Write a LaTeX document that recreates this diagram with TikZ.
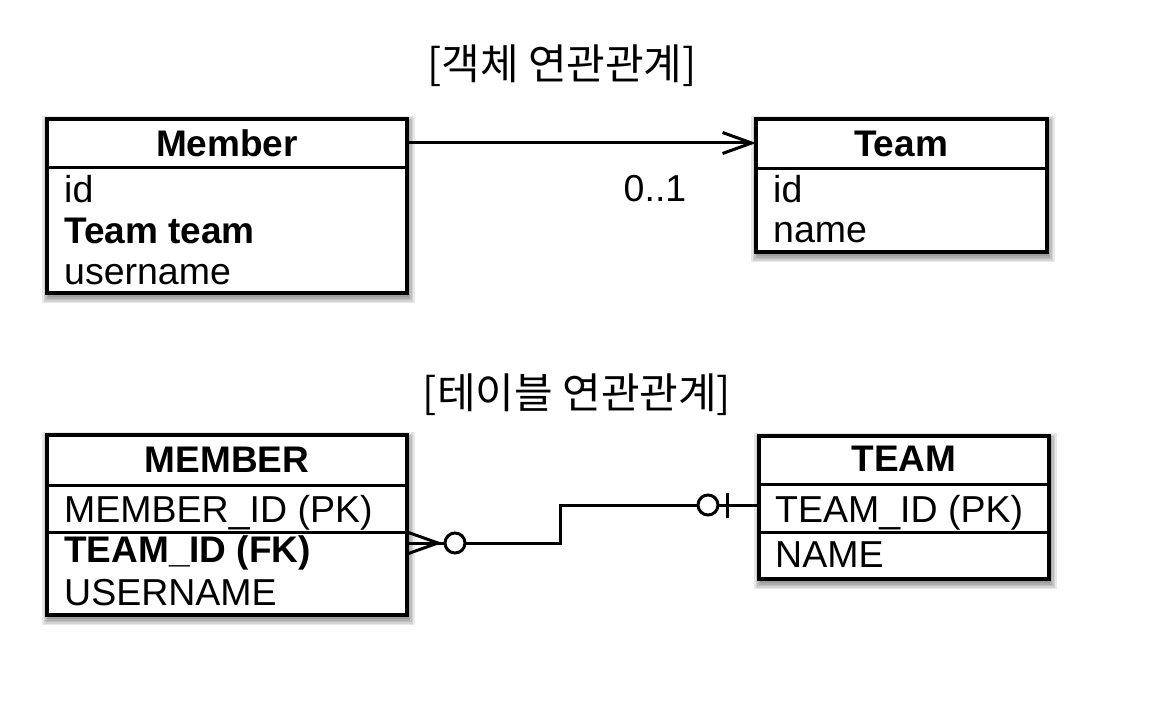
\documentclass[tikz,border=0pt]{standalone}
\usepackage{fontspec}
\setmainfont{Liberation Sans}
\newfontfamily\krfont{Noto Sans CJK KR}
\usetikzlibrary{arrows.meta,calc,backgrounds}
\tikzset{
  tbl/.style={draw, line width=3.4pt, inner sep=0pt, outer sep=0pt, anchor=north west},
  sepline/.style={line width=3pt},
  hd/.style={font=\bfseries\fontsize{37}{40}\selectfont, anchor=base, inner sep=0pt},
  fld/.style={font=\fontsize{37.5}{40}\selectfont, anchor=base west, inner sep=0pt},
  fldb/.style={font=\bfseries\fontsize{37}{40}\selectfont, anchor=base west, inner sep=0pt},
  ttl/.style={font=\krfont\fontsize{42}{46}\selectfont, anchor=base, inner sep=0pt},
  conn/.style={line width=3pt},
  shade box/.style={fill=black, opacity=0.09},
}
\newcommand\boxshadow[1]{%
  \foreach \s in {0,1.5,3,4.5,6}{%
    \fill[shade box] ([xshift={1pt-\s pt}, yshift={-3pt+\s pt}]#1.north west)
      rectangle ([xshift={1.5pt+\s pt}, yshift={-4pt-\s pt}]#1.south east);
  }%
  \fill[white] (#1.north west) rectangle (#1.south east);
}
\begin{document}
\begin{tikzpicture}[x=1pt,y=-1pt]
  \useasboundingbox (0,0) rectangle (1158,722);

  % titles
  \node[ttl] (t1) at (562,80) {[객체 연관관계]};
  \node[ttl] (t2) at (577,408) {[테이블 연관관계]};

  % object boxes
  \node[tbl, minimum width=360pt, minimum height=174pt] (member) at (47,119) {};
  \node[tbl, minimum width=291pt, minimum height=133pt] (team) at (756,119) {};
  % table boxes
  \node[tbl, minimum width=360pt, minimum height=180pt] (MEMBER) at (47,435) {};
  \node[tbl, minimum width=290pt, minimum height=143pt] (TEAM) at (759,436) {};

  \begin{scope}[on background layer]
    \fill[white] (0,0) rectangle (1158,722);
    \boxshadow{member}
    \boxshadow{team}
    \boxshadow{MEMBER}
    \boxshadow{TEAM}
  \end{scope}

  % separators
  \draw[sepline] (member.west |- 0,168) -- (member.east |- 0,168);
  \draw[sepline] (team.west |- 0,169) -- (team.east |- 0,169);
  \draw[sepline] (MEMBER.west |- 0,485) -- (MEMBER.east |- 0,485);
  \draw[sepline] (MEMBER.west |- 0,532) -- (MEMBER.east |- 0,532);
  \draw[sepline] (TEAM.west |- 0,484) -- (TEAM.east |- 0,484);
  \draw[sepline] (TEAM.west |- 0,532) -- (TEAM.east |- 0,532);

  % texts: Member
  \node[hd] (memberh) at (227,157) {Member};
  \node[fld] (m1) at (64,202) {id};
  \node[fldb] (m2) at (64,243) {Team team};
  \node[fld] (m3) at (64,284) {username};
  % Team
  \node[hd] (teamh) at (901,157) {Team};
  \node[fld] (tm1) at (773,202) {id};
  \node[fld] (tm2) at (773,242) {name};
  % MEMBER
  \node[hd] (MEMBERh) at (227,472) {MEMBER};
  \node[fld] (M1) at (64,522) {MEMBER\_ID (PK)};
  \node[fldb] (M2) at (64,562) {TEAM\_ID (FK)};
  \node[fld] (M3) at (64,605) {USERNAME};
  % TEAM
  \node[hd] (TEAMh) at (904,471) {TEAM};
  \node[fld] (T1) at (775,522) {TEAM\_ID (PK)};
  \node[fld] (T2) at (775,567) {NAME};

  % association arrow
  \draw[conn, -{Straight Barb[length=29pt, width=21pt, line width=3pt]}]
    (member.east |- 0,143) -- (team.west |- 0,143);
  \node[fld, anchor=base] (card) at (655,201) {0..1};

  % ER relationship
  \coordinate (fk) at (MEMBER.east |- 0,543);
  \coordinate (pk) at (TEAM.west |- 0,505);
  \draw[conn] ($(fk)+(0,-11)$) -- ($(fk)+(31,0)$) -- ($(fk)+(0,11)$);
  \draw[conn] (fk) -- ($(fk)+(38,0)$);
  \draw[conn] ($(fk)+(48,0)$) circle[radius=10pt];
  \draw[conn] ($(fk)+(58,0)$) -- ($(fk)+(153,0)$) |- ($(pk)+(-61,0)$);
  \draw[conn] ($(pk)+(-51,0)$) circle[radius=10pt];
  \draw[conn] ($(pk)+(-41,0)$) -- (pk);
  \draw[conn] ($(pk)+(-32,-12.5)$) -- ($(pk)+(-32,12.5)$);
\end{tikzpicture}
\end{document}
